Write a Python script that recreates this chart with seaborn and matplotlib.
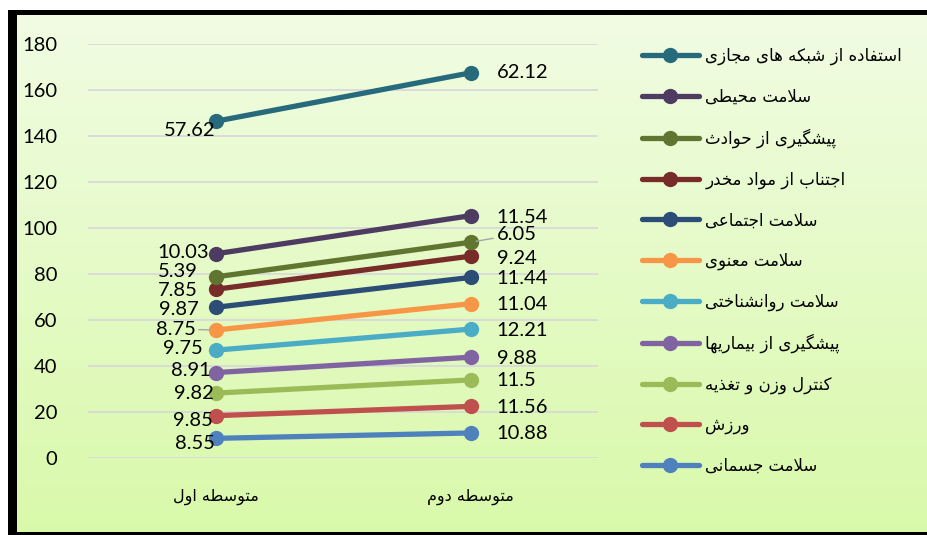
import numpy as np
import pandas as pd
import matplotlib
matplotlib.use("Agg")
import matplotlib.pyplot as plt
import seaborn as sns
from matplotlib.colors import LinearSegmentedColormap
from matplotlib.patches import Rectangle

# === Data (stacked line chart) ===
categories = ["متوسطه اول", "متوسطه دوم"]
series_names = [
    "سلامت جسمانی", "ورزش", "کنترل وزن و تغذیه", "پیشگیری از بیماریها",
    "سلامت روانشناختی", "سلامت معنوی", "سلامت اجتماعی", "اجتناب از مواد مخدر",
    "پیشگیری از حوادث", "سلامت محیطی", "استفاده از شبکه های مجازی",
]
values_first = [8.55, 9.85, 9.82, 8.91, 9.75, 8.75, 9.87, 7.85, 5.39, 10.03, 57.62]
values_second = [10.88, 11.56, 11.5, 9.88, 12.21, 11.04, 11.44, 9.24, 6.05, 11.54, 62.12]
colors = ["#4F81BD", "#C0504D", "#9BBB59", "#8064A2", "#4BACC6", "#F79646",
          "#2C4D75", "#772C2A", "#5F7530", "#4D3B62", "#276A7C"]

# label offsets in pixels (dx, dy) for each point
offs_first = [(0, -5), (-3, -5), (-2, 0), (-5, 2), (-13, 2), (-20, 1),
              (-17, -2), (-18, -1), (-18, 5), (-7, 1), (0, -9)]
offs_second = [(26, -1), (26, -1), (26, -1), (26, -1), (26, -1), (26, -1),
               (26, -1), (26, -2), (26, 8), (26, -2), (26, 0)]

# === Minimal Persian shaping (matplotlib has no complex text layout) ===
_F = {
    "ا": (0xFE8D, 0xFE8E), "ب": (0xFE8F, 0xFE90, 0xFE91, 0xFE92),
    "پ": (0xFB56, 0xFB57, 0xFB58, 0xFB59), "ت": (0xFE95, 0xFE96, 0xFE97, 0xFE98),
    "ث": (0xFE99, 0xFE9A, 0xFE9B, 0xFE9C), "ج": (0xFE9D, 0xFE9E, 0xFE9F, 0xFEA0),
    "ح": (0xFEA1, 0xFEA2, 0xFEA3, 0xFEA4), "خ": (0xFEA5, 0xFEA6, 0xFEA7, 0xFEA8),
    "د": (0xFEA9, 0xFEAA), "ذ": (0xFEAB, 0xFEAC), "ر": (0xFEAD, 0xFEAE),
    "ز": (0xFEAF, 0xFEB0), "ژ": (0xFB8A, 0xFB8B),
    "س": (0xFEB1, 0xFEB2, 0xFEB3, 0xFEB4), "ش": (0xFEB5, 0xFEB6, 0xFEB7, 0xFEB8),
    "ط": (0xFEC1, 0xFEC2, 0xFEC3, 0xFEC4), "ع": (0xFEC9, 0xFECA, 0xFECB, 0xFECC),
    "غ": (0xFECD, 0xFECE, 0xFECF, 0xFED0), "ف": (0xFED1, 0xFED2, 0xFED3, 0xFED4),
    "ک": (0xFB8E, 0xFB8F, 0xFB90, 0xFB91), "گ": (0xFB92, 0xFB93, 0xFB94, 0xFB95),
    "ل": (0xFEDD, 0xFEDE, 0xFEDF, 0xFEE0), "م": (0xFEE1, 0xFEE2, 0xFEE3, 0xFEE4),
    "ن": (0xFEE5, 0xFEE6, 0xFEE7, 0xFEE8), "ه": (0xFEE9, 0xFEEA, 0xFEEB, 0xFEEC),
    "و": (0xFEED, 0xFEEE), "ی": (0xFBFC, 0xFBFD, 0xFBFE, 0xFBFF),
}


def fa(text):
    out = []
    i = 0
    n = len(text)
    while i < n:
        c = text[i]
        if c not in _F:
            out.append(c)
            i += 1
            continue
        prev = text[i - 1] if i > 0 else ""
        joins_prev = prev in _F and len(_F[prev]) == 4
        if c == "ل" and i + 1 < n and text[i + 1] == "ا":
            out.append(chr(0xFEFC if joins_prev else 0xFEFB))
            i += 2
            continue
        nxt = text[i + 1] if i + 1 < n else ""
        joins_next = len(_F[c]) == 4 and nxt in _F
        f = _F[c]
        if joins_prev and joins_next:
            g = f[3]
        elif joins_prev:
            g = f[1]
        elif joins_next:
            g = f[2]
        else:
            g = f[0]
        out.append(chr(g))
        i += 1
    return "".join(out[::-1])


sns.set_style("white")
plt.rcParams["font.family"] = ["Lato", "DejaVu Sans"]
plt.rcParams["text.color"] = "black"

fig = plt.figure(figsize=(9.27, 5.35), dpi=100)
fig.patch.set_facecolor("white")

# === Background: black frame + green gradient ===
bg = fig.add_axes([0, 0, 1, 1])
bg.axis("off")
bg.add_patch(Rectangle((8, 10), 940, 540, color="black", lw=0, zorder=1))
grad = np.linspace(0, 1, 256).reshape(-1, 1)
cmap = LinearSegmentedColormap.from_list("bg", ["#F1FCE3", "#D9F9AA"])
bg.imshow(grad, extent=(17, 927, 532, 15), aspect="auto", cmap=cmap,
          origin="upper", zorder=2)
bg.set_xlim(0, 927)
bg.set_ylim(535, 0)

# === Main axes ===
ax = fig.add_axes([88 / 927, 1 - 458 / 535, (598 - 88) / 927, (458 - 44) / 535])
ax.set_facecolor("none")

x_pos = np.arange(len(categories))
stack_first = np.cumsum(values_first)
stack_second = np.cumsum(values_second)

for i, name in enumerate(series_names):
    sns.lineplot(x=x_pos, y=[stack_first[i], stack_second[i]], ax=ax,
                 color=colors[i], lw=3.8, marker="o", markersize=11,
                 markeredgewidth=0, solid_capstyle="round",
                 label=fa(name), legend=False)

handles, labels = ax.get_legend_handles_labels()

for i in range(len(series_names)):
    dx, dy = offs_first[i]
    kw = {}
    if i == 5:
        kw = dict(arrowprops=dict(arrowstyle="-", color="#A6A6A6", lw=1,
                                  shrinkA=0, shrinkB=4))
    ax.annotate(f"{values_first[i]:g}", (0, stack_first[i]),
                xytext=(dx, dy), textcoords="offset pixels",
                ha="right", va="center", fontsize=14.5, color="black", **kw)
    dx, dy = offs_second[i]
    kw = {}
    if i == 8:
        kw = dict(arrowprops=dict(arrowstyle="-", color="#A6A6A6", lw=1,
                                  shrinkA=0, shrinkB=4))
    ax.annotate(f"{values_second[i]:g}", (1, stack_second[i]),
                xytext=(dx, dy), textcoords="offset pixels",
                ha="left", va="center", fontsize=14.5, color="black", **kw)

ax.set_xlim(-0.5, 1.5)
ax.set_ylim(0, 180)
ax.set_yticks(range(0, 181, 20))
ax.set_xticks(x_pos)
ax.set_xticklabels([fa(c) for c in categories], family="DejaVu Sans", fontsize=11.5)
ax.tick_params(axis="y", length=0, pad=22, labelsize=14.5, labelcolor="black")
ax.tick_params(axis="x", length=0, pad=22, labelcolor="black")
ax.yaxis.grid(True, color="#D9D9D9", lw=1.3)
ax.set_axisbelow(True)
for s in ax.spines.values():
    s.set_visible(False)
ax.set_xlabel("")
ax.set_ylabel("")

leg = fig.legend(handles[::-1], labels[::-1], loc="upper left",
                 bbox_to_anchor=(627 / 927, 1 - 32 / 535), frameon=False,
                 prop={"family": "DejaVu Sans", "size": 12},
                 handlelength=3.4, handletextpad=0.4, labelspacing=1.35,
                 labelcolor="black")

plt.savefig("out.png", dpi=100)
